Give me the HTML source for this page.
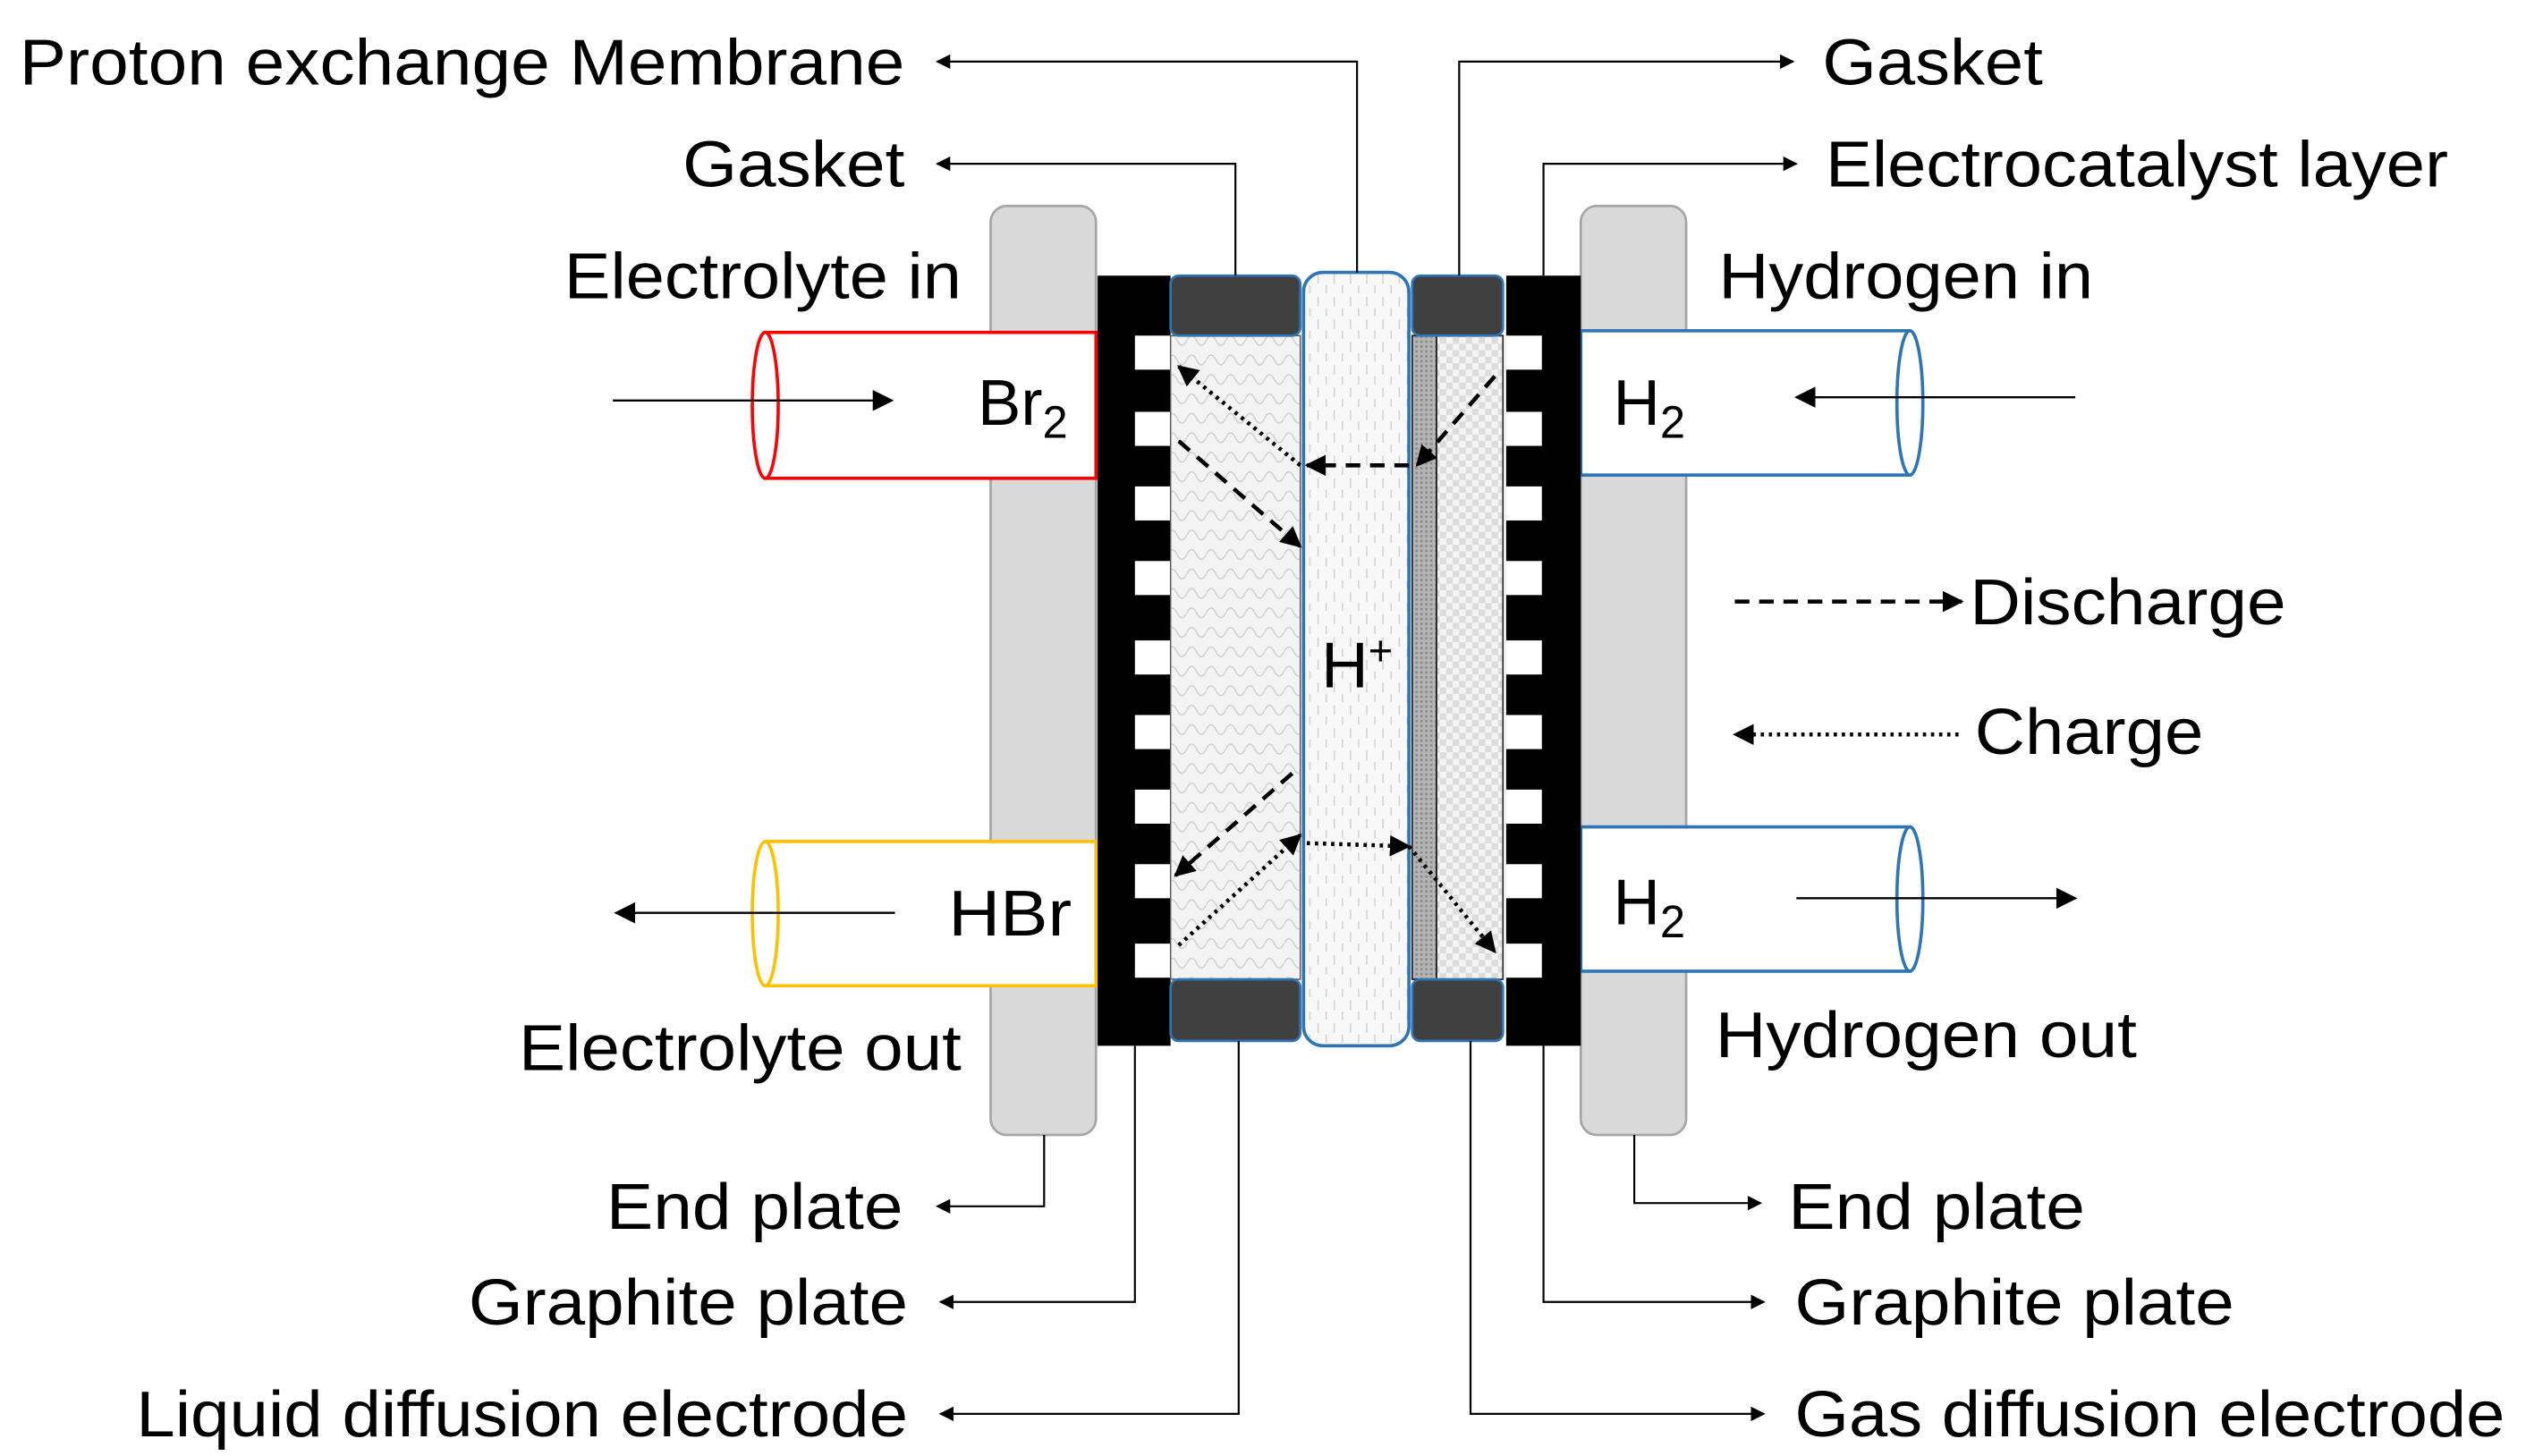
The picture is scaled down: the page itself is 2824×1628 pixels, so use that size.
<!DOCTYPE html>
<html><head><meta charset="utf-8"><style>
html,body{margin:0;padding:0;background:#fff}
svg{display:block}
text{font-family:"Liberation Sans",Arial,sans-serif;fill:#000}
</style></head><body>
<svg width="2824" height="1628" viewBox="0 0 1558 898" preserveAspectRatio="none" xmlns="http://www.w3.org/2000/svg">
<defs>
<pattern id="scale" width="12" height="12" patternUnits="userSpaceOnUse">
<rect width="12" height="12" fill="#f3f3f3"/>
<path d="M0 6 Q3 0 6 6 Q9 12 12 6" fill="none" stroke="#cfcfcf" stroke-width="0.8"/>
</pattern>
<pattern id="mem" width="10" height="14" patternUnits="userSpaceOnUse">
<rect width="10" height="14" fill="#f8f8f8"/>
<line x1="3" y1="1" x2="3" y2="7" stroke="#d0d0d0" stroke-width="0.8"/>
<line x1="8" y1="8" x2="8" y2="13" stroke="#d0d0d0" stroke-width="0.8"/>
</pattern>
<pattern id="chk" width="8" height="8" patternUnits="userSpaceOnUse">
<rect width="8" height="8" fill="#f4f4f4"/>
<rect width="4" height="4" fill="#dcdcdc"/><rect x="4" y="4" width="4" height="4" fill="#dcdcdc"/>
</pattern>
<pattern id="cat" width="3" height="3" patternUnits="userSpaceOnUse">
<rect width="3" height="3" fill="#b5b5b5"/><rect width="1.5" height="1.5" fill="#8a8a8a"/>
</pattern>
<marker id="ah" viewBox="0 0 10 10" refX="9" refY="5" markerWidth="9" markerHeight="9" markerUnits="userSpaceOnUse" orient="auto">
<path d="M0 0 L10 5 L0 10 z" fill="#000"/></marker>
<marker id="ah2" viewBox="0 0 10 10" refX="9" refY="5" markerWidth="13" markerHeight="13" markerUnits="userSpaceOnUse" orient="auto">
<path d="M0 0 L10 5 L0 10 z" fill="#000"/></marker>
</defs>

<!-- end plates -->
<rect x="611" y="127" width="65" height="573" rx="10" fill="#d9d9d9" stroke="#a6a6a6" stroke-width="1.5"/>
<rect x="975" y="127" width="65" height="573" rx="10" fill="#d9d9d9" stroke="#a6a6a6" stroke-width="1.5"/>

<!-- tubes -->
<rect x="472" y="205" width="204" height="90" fill="#fff" stroke="#ff0000" stroke-width="2"/>
<ellipse cx="472" cy="250" rx="8" ry="45" fill="#fff" stroke="#ff0000" stroke-width="2"/>
<rect x="472" y="519" width="204" height="89" fill="#fff" stroke="#ffc000" stroke-width="2"/>
<ellipse cx="472" cy="563.5" rx="8" ry="44.5" fill="#fff" stroke="#ffc000" stroke-width="2"/>
<rect x="975" y="204" width="203" height="89" fill="#fff" stroke="#2e75b6" stroke-width="2"/>
<ellipse cx="1178" cy="248.5" rx="8" ry="44.5" fill="#fff" stroke="#2e75b6" stroke-width="2"/>
<rect x="975" y="510" width="203" height="89" fill="#fff" stroke="#2e75b6" stroke-width="2"/>
<ellipse cx="1178" cy="554.5" rx="8" ry="44.5" fill="#fff" stroke="#2e75b6" stroke-width="2"/>

<!-- graphite plates -->
<rect x="677" y="170" width="45" height="475" fill="#000"/>
<rect x="929" y="170" width="46" height="475" fill="#000"/>
<g fill="#fff">
<rect x="700" y="207" width="22" height="21"/><rect x="700" y="254" width="22" height="21"/><rect x="700" y="300" width="22" height="21"/>
<rect x="700" y="346" width="22" height="21"/><rect x="700" y="395" width="22" height="21"/><rect x="700" y="441" width="22" height="21"/>
<rect x="700" y="487" width="22" height="21"/><rect x="700" y="533" width="22" height="21"/><rect x="700" y="582" width="22" height="21"/>
<rect x="929" y="207" width="22" height="21"/><rect x="929" y="254" width="22" height="21"/><rect x="929" y="300" width="22" height="21"/>
<rect x="929" y="346" width="22" height="21"/><rect x="929" y="395" width="22" height="21"/><rect x="929" y="441" width="22" height="21"/>
<rect x="929" y="487" width="22" height="21"/><rect x="929" y="533" width="22" height="21"/><rect x="929" y="582" width="22" height="21"/>
</g>

<!-- electrodes -->
<rect x="722" y="207" width="80" height="397" fill="url(#scale)" stroke="#555" stroke-width="0.8"/>
<rect x="886" y="207" width="41" height="397" fill="url(#chk)" stroke="#333" stroke-width="1"/>
<rect x="871" y="207" width="15" height="397" fill="url(#cat)" stroke="#222" stroke-width="1"/>
<rect x="804" y="168" width="65" height="477" rx="12" fill="url(#mem)" stroke="#2e75b6" stroke-width="2"/>

<!-- gaskets -->
<rect x="722" y="170" width="80" height="37" rx="5" fill="#404040" stroke="#2e75b6" stroke-width="1.5"/>
<rect x="722" y="604" width="80" height="38" rx="5" fill="#404040" stroke="#2e75b6" stroke-width="1.5"/>
<rect x="871" y="170" width="56" height="37" rx="5" fill="#404040" stroke="#2e75b6" stroke-width="1.5"/>
<rect x="871" y="604" width="56" height="38" rx="5" fill="#404040" stroke="#2e75b6" stroke-width="1.5"/>

<!-- internal arrows -->
<g fill="none" stroke="#000" stroke-width="2.5">
<line x1="802" y1="287" x2="727" y2="226" stroke-dasharray="2 3" marker-end="url(#ah2)"/>
<line x1="727" y1="272" x2="802" y2="337" stroke-dasharray="9 6" marker-end="url(#ah2)"/>
<line x1="869" y1="287" x2="806" y2="287" stroke-dasharray="9 6" marker-end="url(#ah2)"/>
<line x1="922" y1="232" x2="874" y2="287" stroke-dasharray="9 6" marker-end="url(#ah2)"/>
<line x1="797" y1="477" x2="725" y2="540" stroke-dasharray="9 6" marker-end="url(#ah2)"/>
<line x1="727" y1="583" x2="802" y2="515" stroke-dasharray="2 3" marker-end="url(#ah2)"/>
<line x1="806" y1="520" x2="869" y2="522" stroke-dasharray="2 3" marker-end="url(#ah2)"/>
<line x1="869" y1="522" x2="922" y2="587" stroke-dasharray="2 3" marker-end="url(#ah2)"/>
</g>

<!-- flow arrows -->
<g fill="none" stroke="#000" stroke-width="1.3">
<line x1="378" y1="247" x2="550" y2="247" marker-end="url(#ah2)"/>
<line x1="1280" y1="245" x2="1108" y2="245" marker-end="url(#ah2)"/>
<line x1="552" y1="563" x2="380" y2="563" marker-end="url(#ah2)"/>
<line x1="1108" y1="554" x2="1280" y2="554" marker-end="url(#ah2)"/>
</g>
<g fill="none" stroke="#000" stroke-width="2.5">
<line x1="1070" y1="371" x2="1210" y2="371" stroke-dasharray="9 6" marker-end="url(#ah2)"/>
<line x1="1208" y1="453" x2="1070" y2="453" stroke-dasharray="2 3" marker-end="url(#ah2)"/>
</g>

<!-- leader lines -->
<g fill="none" stroke="#000" stroke-width="1.2">
<polyline points="837,168 837,38 578,38" marker-end="url(#ah)"/>
<polyline points="762,170 762,101 578,101" marker-end="url(#ah)"/>
<polyline points="644,700 644,744 578,744" marker-end="url(#ah)"/>
<polyline points="700,645 700,803 580,803" marker-end="url(#ah)"/>
<polyline points="764,642 764,872 580,872" marker-end="url(#ah)"/>
<polyline points="900,170 900,38 1106,38" marker-end="url(#ah)"/>
<polyline points="952,170 952,101 1108,101" marker-end="url(#ah)"/>
<polyline points="1008,700 1008,742 1086,742" marker-end="url(#ah)"/>
<polyline points="952,645 952,803 1088,803" marker-end="url(#ah)"/>
<polyline points="907,642 907,872 1088,872" marker-end="url(#ah)"/>
</g>

<!-- labels -->
<g font-size="40" lengthAdjust="spacingAndGlyphs">
<text x="12" y="52" textLength="546" lengthAdjust="spacingAndGlyphs">Proton exchange Membrane</text>
<text x="421" y="115" textLength="137" lengthAdjust="spacingAndGlyphs">Gasket</text>
<text x="348" y="184" textLength="245" lengthAdjust="spacingAndGlyphs">Electrolyte in</text>
<text x="320" y="660" textLength="273" lengthAdjust="spacingAndGlyphs">Electrolyte out</text>
<text x="374" y="758" textLength="183" lengthAdjust="spacingAndGlyphs">End plate</text>
<text x="289" y="817" textLength="271" lengthAdjust="spacingAndGlyphs">Graphite plate</text>
<text x="84" y="886" textLength="476" lengthAdjust="spacingAndGlyphs">Liquid diffusion electrode</text>
<text x="1124" y="52" textLength="136" lengthAdjust="spacingAndGlyphs">Gasket</text>
<text x="1126" y="115" textLength="384" lengthAdjust="spacingAndGlyphs">Electrocatalyst layer</text>
<text x="1060" y="184" textLength="231" lengthAdjust="spacingAndGlyphs">Hydrogen in</text>
<text x="1058" y="652" textLength="260" lengthAdjust="spacingAndGlyphs">Hydrogen out</text>
<text x="1103" y="758" textLength="183" lengthAdjust="spacingAndGlyphs">End plate</text>
<text x="1107" y="817" textLength="271" lengthAdjust="spacingAndGlyphs">Graphite plate</text>
<text x="1107" y="886" textLength="438" lengthAdjust="spacingAndGlyphs">Gas diffusion electrode</text>
<text x="1215" y="385" textLength="195" lengthAdjust="spacingAndGlyphs">Discharge</text>
<text x="1218" y="465" textLength="141" lengthAdjust="spacingAndGlyphs">Charge</text>
<text x="603" y="262">Br<tspan font-size="28" dy="8">2</tspan></text>
<text x="995" y="262">H<tspan font-size="28" dy="8">2</tspan></text>
<text x="995" y="570">H<tspan font-size="28" dy="8">2</tspan></text>
<text x="585" y="577" textLength="76" lengthAdjust="spacingAndGlyphs">HBr</text>
<text x="815" y="424">H<tspan font-size="26" dy="-14">+</tspan></text>
</g>
</svg>
</body></html>
